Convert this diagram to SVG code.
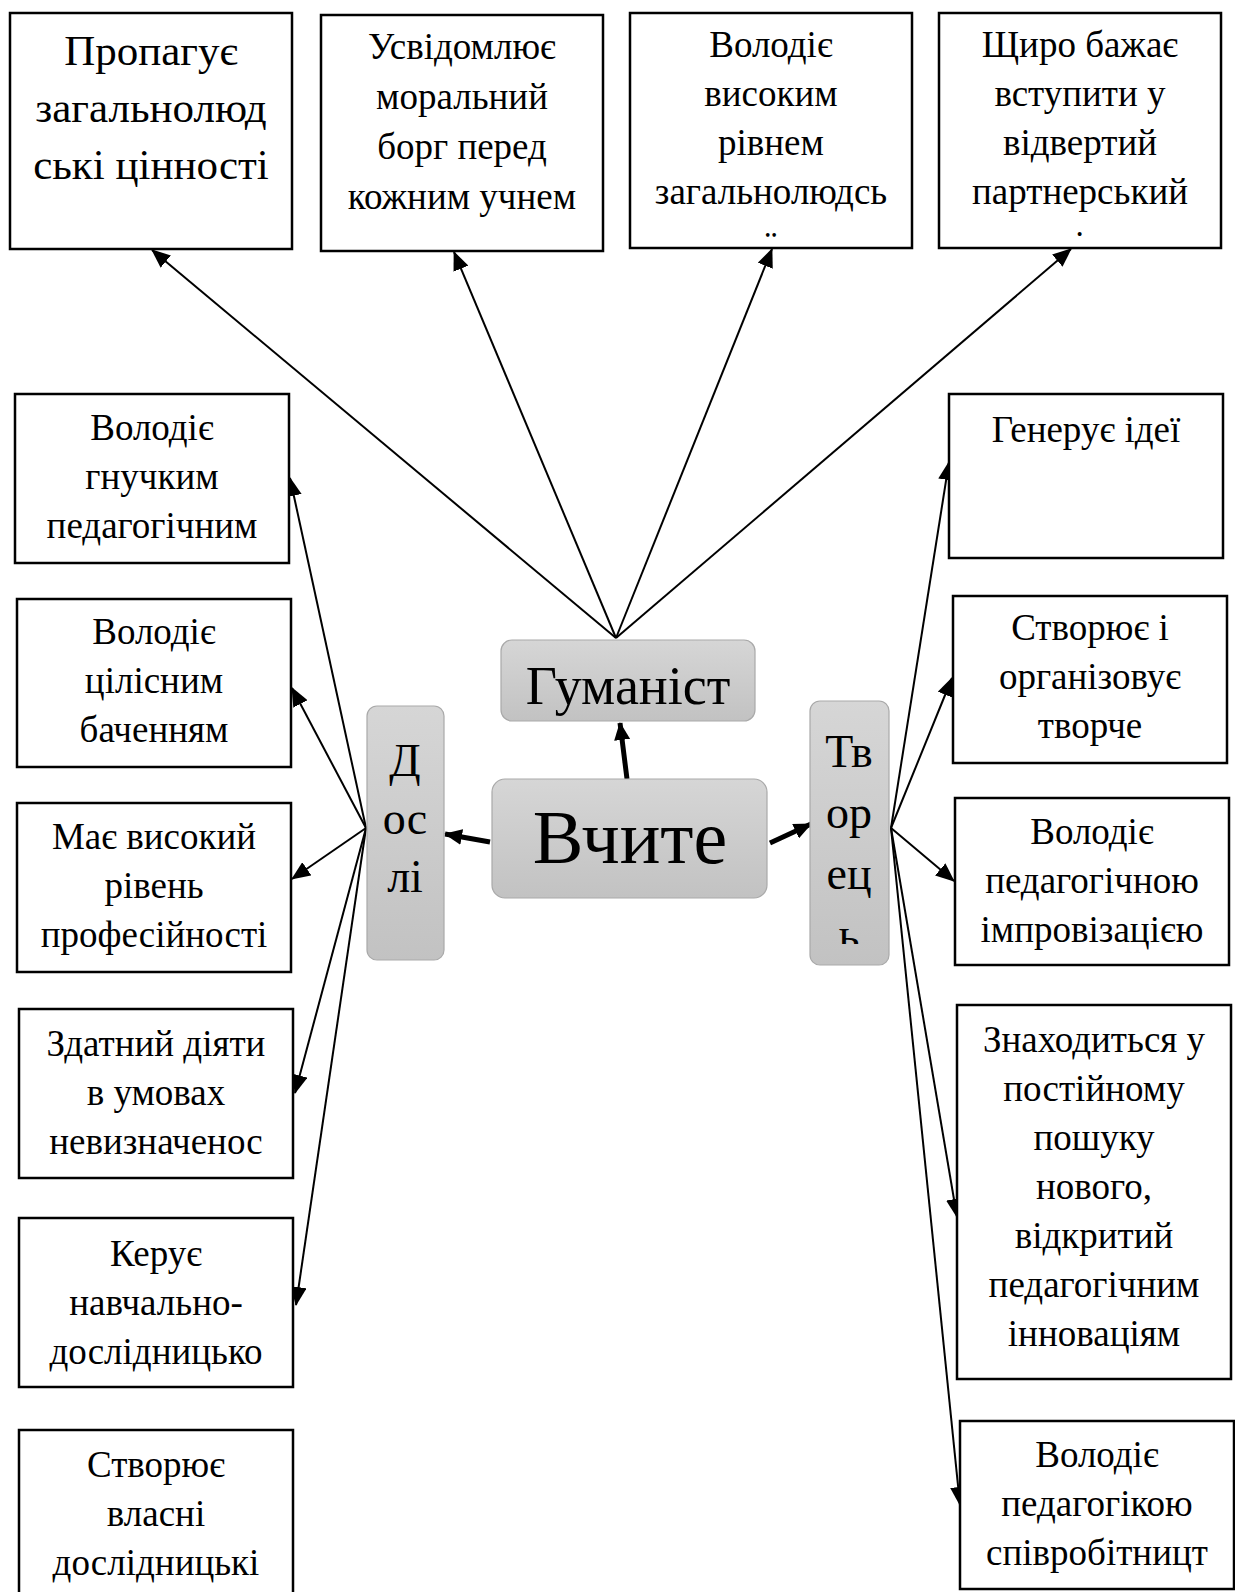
<svg xmlns="http://www.w3.org/2000/svg" width="1235" height="1592" viewBox="0 0 1235 1592">
<style>
.box{fill:#fff;stroke:#000;stroke-width:2.5}
.gn{fill:url(#gg);stroke:#a9a9a9;stroke-width:1.2}
.t{font-family:"Liberation Serif","Times New Roman",serif;font-size:37px;fill:#000;text-anchor:middle}
.t1{font-size:43px}
.tv{font-size:46px}
.tg{font-size:54px}
.tb{font-size:76px}
.c{stroke:#000;stroke-width:2;fill:none;marker-end:url(#ah)}
.ck{stroke:#000;stroke-width:5;fill:none;marker-end:url(#ahk)}
</style>
<defs>
<linearGradient id="gg" x1="0" y1="0" x2="0" y2="1">
<stop offset="0" stop-color="#d6d6d6"/>
<stop offset="1" stop-color="#c2c2c2"/>
</linearGradient>
<marker id="ah" markerUnits="userSpaceOnUse" markerWidth="19" markerHeight="16" refX="18" refY="8" orient="auto">
<path d="M0,0 L19,8 L0,16 z" fill="#000"/>
</marker>
<marker id="ahk" markerUnits="userSpaceOnUse" markerWidth="18" markerHeight="16" refX="17" refY="8" orient="auto">
<path d="M0,0 L18,8 L0,16 z" fill="#000"/>
</marker>
<clipPath id="cb3"><rect x="630" y="13" width="282" height="224"/></clipPath>
<clipPath id="cb4"><rect x="939" y="13" width="282" height="224"/></clipPath>
<clipPath id="ctv"><rect x="810" y="701" width="80" height="243"/></clipPath>
</defs>
<rect width="1235" height="1592" fill="#fff"/>

<g id="connectors">
<line class="c" x1="616" y1="638" x2="152" y2="250"/>
<line class="c" x1="616" y1="638" x2="454" y2="252"/>
<line class="c" x1="616" y1="638" x2="772" y2="249"/>
<line class="c" x1="616" y1="638" x2="1071" y2="249"/>
<line class="c" x1="366" y1="828" x2="290" y2="478"/>
<line class="c" x1="366" y1="828" x2="292" y2="688"/>
<line class="c" x1="366" y1="828" x2="292" y2="879"/>
<line class="c" x1="366" y1="828" x2="295" y2="1093"/>
<line class="c" x1="366" y1="828" x2="296" y2="1305"/>
<line class="c" x1="891" y1="828" x2="949" y2="462"/>
<line class="c" x1="891" y1="828" x2="952" y2="678"/>
<line class="c" x1="891" y1="828" x2="954" y2="881"/>
<line class="c" x1="891" y1="828" x2="957" y2="1217"/>
<line class="c" x1="891" y1="828" x2="960" y2="1505"/>
<line class="ck" x1="627" y1="779" x2="620" y2="723"/>
<line class="ck" x1="490" y1="842" x2="445" y2="834"/>
<line class="ck" x1="770" y1="843" x2="811" y2="824"/>
</g>

<g id="b1"><rect class="box" x="10" y="13" width="282" height="236"/>
<text class="t t1" x="151" y="65">Пропагує</text>
<text class="t t1" x="151" y="122">загальнолюд</text>
<text class="t t1" x="151" y="179">ські цінності</text></g>

<g id="b2"><rect class="box" x="321" y="15" width="282" height="236"/>
<text class="t" x="462" y="59">Усвідомлює</text>
<text class="t" x="462" y="109">моральний</text>
<text class="t" x="462" y="159">борг перед</text>
<text class="t" x="462" y="209">кожним учнем</text></g>

<g id="b3"><rect class="box" x="630" y="13" width="282" height="235"/>
<text class="t" x="771" y="57">Володіє</text>
<text class="t" x="771" y="106">високим</text>
<text class="t" x="771" y="155">рівнем</text>
<text class="t" x="771" y="204">загальнолюдсь</text>
<text class="t" x="771" y="257" clip-path="url(#cb3)">ї</text></g>

<g id="b4"><rect class="box" x="939" y="13" width="282" height="235"/>
<text class="t" x="1080" y="57">Щиро бажає</text>
<text class="t" x="1080" y="106">вступити у</text>
<text class="t" x="1080" y="155">відвертий</text>
<text class="t" x="1080" y="204">партнерський</text>
<text class="t" x="1080" y="257" clip-path="url(#cb4)">і</text></g>

<g id="humanist"><rect class="gn" x="501" y="640" width="254" height="81" rx="11"/>
<text class="t tg" x="628" y="704">Гуманіст</text></g>

<g id="teacher"><rect class="gn" x="492" y="779" width="275" height="119" rx="13"/>
<text class="t tb" x="630" y="863">Вчите</text></g>

<g id="researcher"><rect class="gn" x="367" y="706" width="77" height="254" rx="10"/>
<text class="t tv" x="405" y="776">Д</text>
<text class="t tv" x="405" y="834">ос</text>
<text class="t tv" x="405" y="892">лі</text></g>

<g id="creator"><rect class="gn" x="810" y="701" width="79" height="264" rx="10"/>
<text class="t tv" x="849" y="767">Тв</text>
<text class="t tv" x="849" y="828">ор</text>
<text class="t tv" x="849" y="889">ец</text>
<text class="t tv" x="849" y="950" clip-path="url(#ctv)">ь</text></g>

<g id="l1"><rect class="box" x="15" y="394" width="274" height="169"/>
<text class="t" x="152" y="440">Володіє</text>
<text class="t" x="152" y="489">гнучким</text>
<text class="t" x="152" y="538">педагогічним</text></g>

<g id="l2"><rect class="box" x="17" y="599" width="274" height="168"/>
<text class="t" x="154" y="644">Володіє</text>
<text class="t" x="154" y="693">цілісним</text>
<text class="t" x="154" y="742">баченням</text></g>

<g id="l3"><rect class="box" x="17" y="803" width="274" height="169"/>
<text class="t" x="154" y="849">Має високий</text>
<text class="t" x="154" y="898">рівень</text>
<text class="t" x="154" y="947">професійності</text></g>

<g id="l4"><rect class="box" x="19" y="1009" width="274" height="169"/>
<text class="t" x="156" y="1056">Здатний діяти</text>
<text class="t" x="156" y="1105">в умовах</text>
<text class="t" x="156" y="1154">невизначенос</text></g>

<g id="l5"><rect class="box" x="19" y="1218" width="274" height="169"/>
<text class="t" x="156" y="1266">Керує</text>
<text class="t" x="156" y="1315">навчально-</text>
<text class="t" x="156" y="1364">дослідницько</text></g>

<g id="l6"><rect class="box" x="19" y="1430" width="274" height="175"/>
<text class="t" x="156" y="1477">Створює</text>
<text class="t" x="156" y="1526">власні</text>
<text class="t" x="156" y="1575">дослідницькі</text></g>

<g id="r1"><rect class="box" x="949" y="394" width="274" height="164"/>
<text class="t" x="1086" y="442">Генерує ідеї</text></g>

<g id="r2"><rect class="box" x="953" y="596" width="274" height="167"/>
<text class="t" x="1090" y="640">Створює і</text>
<text class="t" x="1090" y="689">організовує</text>
<text class="t" x="1090" y="738">творче</text></g>

<g id="r3"><rect class="box" x="955" y="798" width="274" height="167"/>
<text class="t" x="1092" y="844">Володіє</text>
<text class="t" x="1092" y="893">педагогічною</text>
<text class="t" x="1092" y="942">імпровізацією</text></g>

<g id="r4"><rect class="box" x="957" y="1005" width="274" height="374"/>
<text class="t" x="1094" y="1052">Знаходиться у</text>
<text class="t" x="1094" y="1101">постійному</text>
<text class="t" x="1094" y="1150">пошуку</text>
<text class="t" x="1094" y="1199">нового,</text>
<text class="t" x="1094" y="1248">відкритий</text>
<text class="t" x="1094" y="1297">педагогічним</text>
<text class="t" x="1094" y="1346">інноваціям</text></g>

<g id="r5"><rect class="box" x="960" y="1421" width="274" height="168"/>
<text class="t" x="1097" y="1467">Володіє</text>
<text class="t" x="1097" y="1516">педагогікою</text>
<text class="t" x="1097" y="1565">співробітницт</text></g>
</svg>
